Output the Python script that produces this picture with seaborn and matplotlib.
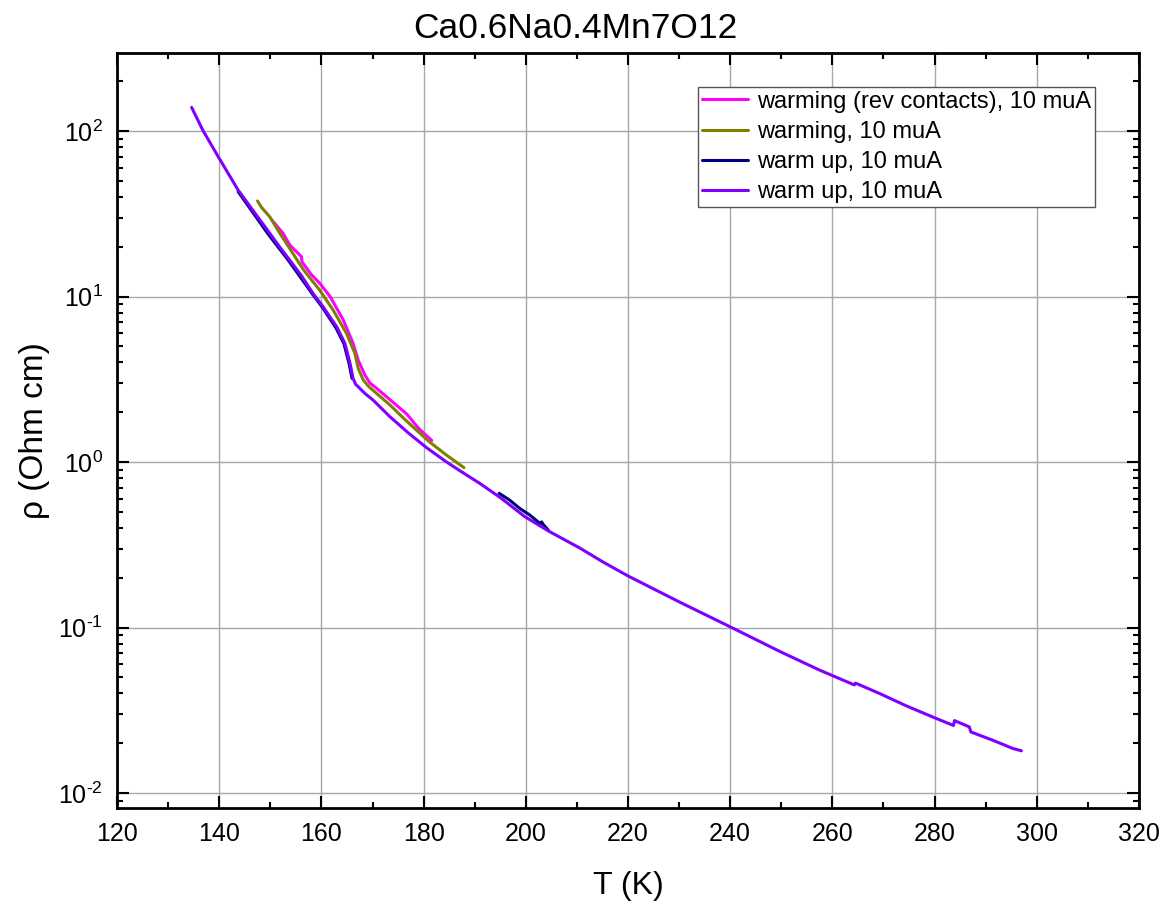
import pandas as pd
import matplotlib
matplotlib.use("Agg")
import matplotlib.pyplot as plt
import seaborn as sns
from matplotlib.ticker import MultipleLocator, LogLocator, NullFormatter, FuncFormatter
import numpy as np

# values (T in K, rho in Ohm cm)
series_ids = ["rev", "warming", "warmup1", "warmup2"]
labels = ["warming (rev contacts), 10 muA", "warming, 10 muA",
          "warm up, 10 muA", "warm up, 10 muA"]
colors = ["#FF00FF", "#808000", "#000080", "#8000FF"]

t_rev = [150.3, 152.5, 153.8, 156.1, 156.2, 158.0, 159.7, 161.7, 164.3, 166.2,
         167.2, 168.5, 169.5, 170.8, 174.0, 176.7, 179.0, 181.6]
rho_rev = [29.0, 24.1, 20.5, 17.4, 16.2, 13.6, 12.0, 10.0, 7.2, 5.21,
           4.13, 3.36, 3.0, 2.79, 2.3, 1.95, 1.6, 1.35]

t_warm = [147.5, 148.3, 149.9, 151.8, 153.8, 156.5, 159.7, 162.3, 164.9, 166.55,
          167.2, 168.2, 169.3, 170.8, 173.5, 176.0, 178.5, 181.2, 184.5, 187.9]
rho_warm = [37.8, 34.5, 30.3, 24.3, 19.5, 14.5, 10.9, 8.28, 6.0, 4.54,
            3.68, 3.13, 2.85, 2.6, 2.2, 1.85, 1.57, 1.32, 1.1, 0.925]

t_up1_a = [143.7, 146.5, 149.5, 153.5, 158.2, 160.2, 162.8, 164.4, 165.4, 166.0]
rho_up1_a = [43.0, 32.5, 24.0, 16.6, 10.4, 8.6, 6.5, 5.2, 3.95, 3.2]
t_up1_b = [194.8, 196.8, 198.8, 200.8, 202.8, 203.1, 203.4, 204.4]
rho_up1_b = [0.647, 0.590, 0.525, 0.478, 0.425, 0.435, 0.420, 0.388]

t_up2 = [134.6, 136.8, 139.8, 143.7, 146.5, 149.9, 151.8, 153.8, 156.0, 158.4,
         160.35, 161.7, 163.0, 164.6, 165.6, 166.2, 166.7, 167.2, 168.5, 170.1,
         173.4, 177.0, 180.6, 184.5, 187.5, 191.0, 195.0, 199.8, 204.7, 210.6,
         215.0, 220.0, 230.0, 240.0, 250.0, 257.5, 264.3, 264.5, 269.2, 274.5,
         280.0, 283.7, 283.9, 286.8, 287.1, 291.3, 295.3, 297.0]
rho_up2 = [139.0, 101.0, 70.0, 44.0, 33.5, 24.1, 20.0, 16.6, 13.5, 10.4,
           8.67, 7.5, 6.57, 5.21, 3.95, 3.2, 2.95, 2.85, 2.6, 2.37,
           1.88, 1.5, 1.22, 1.0, 0.87, 0.743, 0.61, 0.468, 0.379, 0.302,
           0.25, 0.205, 0.143, 0.101, 0.071, 0.0553, 0.0450, 0.0462, 0.0400, 0.0336,
           0.0285, 0.0256, 0.0274, 0.0251, 0.0234, 0.0209, 0.0186, 0.0180]

parts = [
    ("rev", "rev", t_rev, rho_rev),
    ("warming", "warming", t_warm, rho_warm),
    ("warmup1", "warmup1a", t_up1_a, rho_up1_a),
    ("warmup1", "warmup1b", t_up1_b, rho_up1_b),
    ("warmup2", "warmup2", t_up2, rho_up2),
]
df = pd.concat([pd.DataFrame({"T": t, "rho": r, "series": s, "seg": g})
                for s, g, t, r in parts], ignore_index=True)

sns.set_style("ticks")
plt.rcParams["font.family"] = ["Liberation Sans", "DejaVu Sans"]
plt.rcParams["mathtext.fontset"] = "custom"
plt.rcParams["mathtext.rm"] = "Liberation Sans"
plt.rcParams["mathtext.it"] = "Liberation Sans:italic"
plt.rcParams["mathtext.bf"] = "Liberation Sans:bold"
plt.rcParams["axes.unicode_minus"] = False
plt.rcParams["text.color"] = "black"
plt.rcParams["axes.labelcolor"] = "black"
plt.rcParams["xtick.color"] = "black"
plt.rcParams["ytick.color"] = "black"

fig = plt.figure(figsize=(11.69, 9.02), dpi=100)
ax = fig.add_axes([0.1001, 0.1042, 0.8742, 0.837])

sns.lineplot(data=df, x="T", y="rho", hue="series", units="seg", estimator=None,
             sort=False, hue_order=series_ids, palette=dict(zip(series_ids, colors)),
             linewidth=2.2, ax=ax)

ax.set_yscale("log")
ax.set_xlim(120, 320)
ax.set_ylim(0.00812, 296)
ax.xaxis.set_major_locator(MultipleLocator(20))
ax.xaxis.set_minor_locator(MultipleLocator(10))
ax.yaxis.set_major_locator(LogLocator(base=10))
ax.yaxis.set_minor_locator(LogLocator(base=10, subs=range(2, 10)))
ax.yaxis.set_minor_formatter(NullFormatter())


def pow10(v, pos):
    e = int(round(np.log10(v)))
    if e < 0:
        return r"$10^{\text{-}%d}$" % (-e)
    return r"$10^{%d}$" % e


ax.yaxis.set_major_formatter(FuncFormatter(pow10))

ax.tick_params(which="both", direction="in", top=True, right=True, colors="black")
ax.tick_params(which="major", length=8.6, width=1.5, labelsize=18, pad=10)
ax.tick_params(which="minor", length=4.3, width=1.5)
for sp in ax.spines.values():
    sp.set_linewidth(2)
    sp.set_color("black")

ax.grid(True, which="major", color="#a8a8a8", linewidth=1)
ax.set_axisbelow(True)

ax.set_xlabel("T (K)", fontsize=23, labelpad=18)
ax.set_ylabel("\u03c1 (Ohm cm)", fontsize=24, labelpad=6)
fig.suptitle("Ca0.6Na0.4Mn7O12", fontsize=25.5, x=0.492, y=0.968, va="center")

handles, _ = ax.get_legend_handles_labels()
ax.legend(handles, labels, loc="upper right", bbox_to_anchor=(0.957, 0.955),
          borderaxespad=0, frameon=True, fancybox=False, edgecolor="#555555",
          framealpha=1, fontsize=17, handlelength=1.95, handletextpad=0.4,
          labelspacing=0.35, borderpad=0.15)

fig.savefig("out.png", dpi=100)
